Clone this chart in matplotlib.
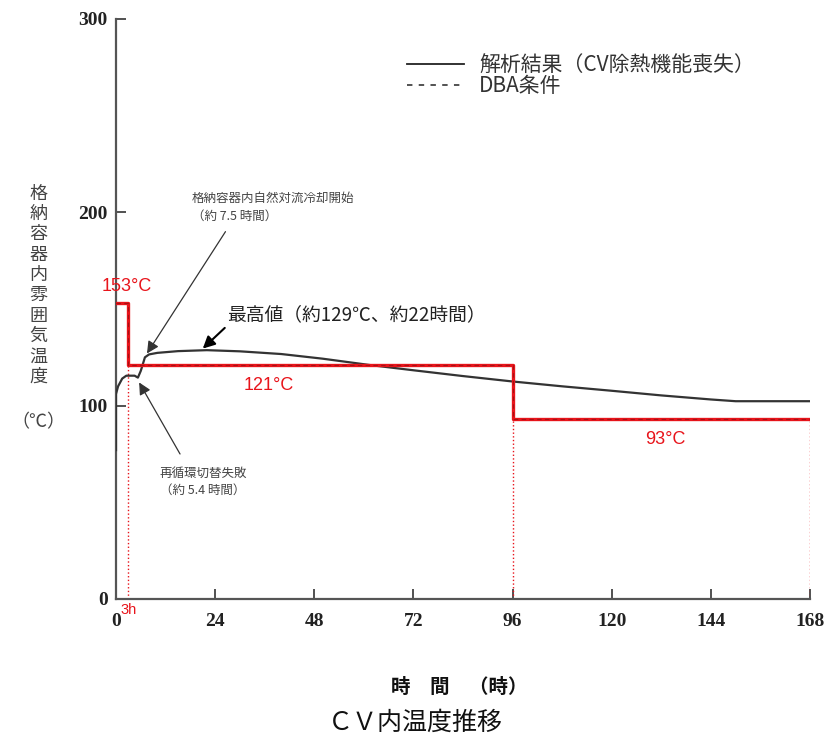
import matplotlib
matplotlib.use("Agg")
import matplotlib.pyplot as plt
from matplotlib.lines import Line2D

# 解析結果（CV除熱機能喪失）: 時間 [h] と温度 [℃]
time_h = [0, 0, 0.5, 1.5, 2.5, 4.5, 5.3, 6, 7, 8, 10, 15, 22, 30, 40, 50,
          61.5, 72, 84, 96, 108, 120, 132, 144, 150, 168]
temp_c = [77, 106, 110, 114, 115.5, 115.5, 114.5, 118, 125, 126.5, 127.3,
          128.2, 128.7, 128.1, 126.7, 124.3, 121, 118.3, 115.3, 112.5, 110,
          107.7, 105.3, 103.2, 102.3, 102.3]

# DBA条件（ステップ）
dba_time = [0, 3, 3, 96, 96, 168]
dba_temp = [153, 153, 121, 121, 93, 93]
dba_marks = [3, 96, 168]
dba_levels = [121, 93, 93]

x_ticks = [0, 24, 48, 72, 96, 120, 144, 168]
y_ticks = [0, 100, 200, 300]

CJK = ["Noto Sans CJK JP", "DejaVu Sans"]
SERIF = "Liberation Serif"
RED = "#e8141b"

fig = plt.figure(figsize=(8.31, 7.44), dpi=100)
ax = fig.add_axes([0.1396, 0.1949, 0.8351, 0.7796])

ax.plot(time_h, temp_c, color="#333333", linewidth=1.6, zorder=3)

ax.plot(dba_time, dba_temp, color=RED, linewidth=2.4, zorder=4)
ax.plot(dba_time, dba_temp, color="#7a1010", linewidth=0.8,
        linestyle=(0, (4, 3)), alpha=0.6, zorder=5)
for t, v in zip(dba_marks, dba_levels):
    ax.plot([t, t], [0, v], color=RED, linewidth=1.0, linestyle=":", zorder=2)

ax.set_xlim(0, 168)
ax.set_ylim(0, 300)
ax.set_xticks(x_ticks)
ax.set_yticks(y_ticks)
ax.tick_params(direction="in", length=7, width=1.2, color="#333333", pad=10)
for lab in ax.get_xticklabels() + ax.get_yticklabels():
    lab.set_fontfamily(SERIF)
    lab.set_fontweight("bold")
    lab.set_fontsize(14)
    lab.set_color("#222222")
ax.tick_params(axis="y", pad=6)
for side in ["top", "right"]:
    ax.spines[side].set_visible(False)
for side in ["left", "bottom"]:
    ax.spines[side].set_color("#555555")
    ax.spines[side].set_linewidth(1.6)

# 赤字ラベル
ax.text(-3.5, 157, "153°C", color=RED, fontsize=13, family="Liberation Sans",
        ha="left", va="bottom", zorder=6)
ax.text(37, 115, "121°C", color=RED, fontsize=13, family="Liberation Sans",
        ha="center", va="top")
ax.text(133, 87, "93°C", color=RED, fontsize=13, family="Liberation Sans",
        ha="center", va="top")
ax.text(3, -2, "3h", color=RED, fontsize=10.5, family="Liberation Sans",
        ha="center", va="top")

# 注記
ax.annotate("最高値（約129℃、約22時間）", xy=(21, 129.5), xytext=(27, 147),
            fontsize=13.5, family=CJK, color="#222222", ha="left", va="center",
            arrowprops=dict(arrowstyle="-|>", color="black", lw=1.5,
                            mutation_scale=18, shrinkA=0, shrinkB=0,
                            relpos=(0.0, 0.0)))
ax.annotate("", xy=(7.5, 127), xytext=(26.5, 190),
            arrowprops=dict(arrowstyle="-|>", color="#333333", lw=0.9,
                            mutation_scale=18, shrinkA=0, shrinkB=0))
ax.text(18.3, 207, "格納容器内自然対流冷却開始", fontsize=9, family=CJK,
        color="#444444", ha="left", va="center")
ax.text(18.5, 198, "（約 7.5 時間）", fontsize=9, family=CJK,
        color="#444444", ha="left", va="center")
ax.annotate("", xy=(5.6, 112), xytext=(15.5, 75),
            arrowprops=dict(arrowstyle="-|>", color="#333333", lw=0.9,
                            mutation_scale=18, shrinkA=0, shrinkB=0))
ax.text(21, 65, "再循環切替失敗", fontsize=9, family=CJK,
        color="#444444", ha="center", va="center")
ax.text(21, 56, "（約 5.4 時間）", fontsize=9, family=CJK,
        color="#444444", ha="center", va="center")

# 凡例
handles = [
    Line2D([0], [0], color="#222222", linewidth=1.3),
    Line2D([0], [0], color="#444444", linewidth=1.3, linestyle=(0, (3, 3.5))),
]
ax.legend(handles, ["解析結果（CV除熱機能喪失）", "DBA条件"],
          loc="upper left", bbox_to_anchor=(0.393, 0.972), frameon=False,
          prop={"family": CJK, "size": 15}, handlelength=2.7,
          labelspacing=-0.05, handletextpad=0.75, labelcolor="#333333")

# 縦書きの軸ラベル
ylab = "格\n納\n容\n器\n内\n雰\n囲\n気\n温\n度"
fig.text(0.046, 0.752, ylab, fontsize=13, family=CJK, color="#444444",
         ha="center", va="top", linespacing=1.17)
fig.text(0.046, 0.432, "（℃）", fontsize=13, family=CJK, color="#444444",
         ha="center", va="center")

fig.text(0.553, 0.076, "時　間　（時）", fontsize=14, family=CJK,
         fontweight="bold", color="#111111", ha="center", va="center")
fig.text(0.50, 0.029, "ＣＶ内温度推移", fontsize=18, family=CJK,
         color="#111111", ha="center", va="center")

fig.savefig("out.png", dpi=100)
